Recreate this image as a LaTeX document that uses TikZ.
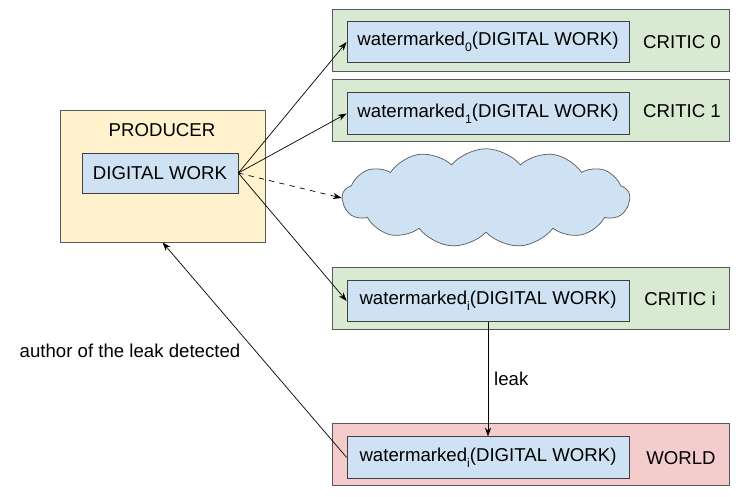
\documentclass[tikz,border=0pt]{standalone}
\usepackage{fontspec}
\setmainfont{Liberation Sans}
\usetikzlibrary{arrows.meta, shapes.symbols}
\definecolor{workblue}{HTML}{CFE2F3}
\definecolor{criticgreen}{HTML}{D9EAD3}
\definecolor{worldred}{HTML}{F4CCCC}
\definecolor{produceryellow}{HTML}{FFF2CC}
\newcommand{\wsub}[1]{\raisebox{-0.6ex}{\scriptsize #1}}

\begin{document}
\begin{tikzpicture}[x=0.02cm, y=-0.02cm,
        font=\fontsize{10.6}{12}\selectfont,
        outer/.style={draw=black!65, minimum width=7.94cm, minimum height=1.24cm},
        inner/.style={draw=black!75, fill=workblue, minimum width=5.64cm, minimum height=0.83cm},
        link/.style={-{Stealth[length=5pt, width=3.5pt]}, black, line width=0.4pt}]
        \useasboundingbox (0,0) rectangle (744,497);

        % Producer
        \node[draw=black!65, fill=produceryellow, minimum width=4.1cm, minimum height=2.64cm] (producer) at (162.5,176) {};
        \node at (162,130) {PRODUCER};
        \node[inner, minimum width=3.12cm, minimum height=0.8cm] (work) at (160,173) {DIGITAL WORK};

        % Critics
        \node[outer, fill=criticgreen] (critic0) at (530.5,40) {};
        \node[inner] (wm0) at (488,42) {watermarked\wsub{0}(DIGITAL WORK)};
        \node at (682,42) {CRITIC 0};

        \node[outer, fill=criticgreen] (critic1) at (530.5,110) {};
        \node[inner] (wm1) at (488,113.5) {watermarked\wsub{1}(DIGITAL WORK)};
        \node at (682,111) {CRITIC 1};

        \node[outer, fill=criticgreen] (critici) at (530.5,298) {};
        \node[inner] (wmi) at (488,301) {watermarked\wsub{i}(DIGITAL WORK)};
        \node at (680,299) {CRITIC i};

        % World
        \node[outer, fill=worldred] (world) at (530.5,454.5) {};
        \node[inner] (wmw) at (488,457.5) {watermarked\wsub{i}(DIGITAL WORK)};
        \node at (681,458) {WORLD};

        % Cloud
        \node[cloud, draw=black!65, fill=workblue, cloud puffs=13, cloud puff arc=100,
            aspect=3, inner sep=0pt, minimum width=5.75cm, minimum height=1.97cm] (cloud) at (486,198) {};

        % Connections
        \draw[link] (work.east) -- (wm0.west);
        \draw[link] (work.east) -- (wm1.west);
        \draw[link, dashed] (work.east) -- (cloud.west);
        \draw[link] (work.east) -- (wmi.west);
        \draw[link] (wmi.south) -- node[right] {leak} (wmw.north);
        \draw[link] (wmw.west) -- (producer.south);

        % Labels
        \node at (130,351) {author of the leak detected};
    \end{tikzpicture}
\end{document}
